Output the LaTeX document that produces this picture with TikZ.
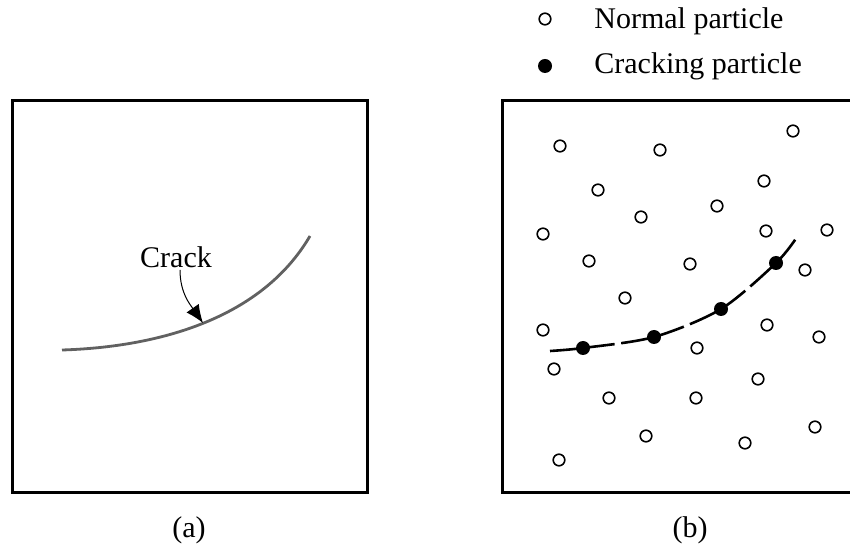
\documentclass[tikz,border=0pt]{standalone}
\usepackage{fontspec}
\setmainfont{Liberation Serif}
\usetikzlibrary{arrows.meta}
\begin{document}
\begin{tikzpicture}[x=0.5pt, y=-0.5pt,
		frame/.style={line width=1.5pt, line join=miter},
		txt/.style={font=\fontsize{15}{18}\selectfont, inner sep=1pt},
		normal/.style={circle, draw, line width=0.8pt, fill=white, minimum size=5.8pt, inner sep=0pt},
		cracking/.style={circle, fill=black, minimum size=7pt, inner sep=0pt},
		crackline/.style={line width=1.3pt, dash pattern=on 32.5pt off 3.3pt}
	]
		\useasboundingbox (0,0) rectangle (850,549);
		
		\draw[frame] (12,101) rectangle (367,492);
		\draw[frame] (850,101) -| (502,492) -- (850,492);
		
		\draw[line width=1.4pt, color=black!62] (62,350) .. controls (160,347) and (262,318) .. (310,236);
		\node[txt] (cracklabel) at (176,257) {Crack};
		\coordinate (cracktip) at (203,323);
		\draw[-{Latex[length=9pt,width=7.5pt]}, line width=0.5pt] ([xshift=2pt]cracklabel.south) to[out=-90, in=125] (cracktip);
		\node[txt] (labela) at (189,530) {(a)};
		
		\foreach \pos [count=\i] in {(560,146),(660,150),(793,131),(598,190),(764,181),(641,217),(717,206),(543,234),(766,231),(827,230),(589,261),(690,264),(805,270),(625,298),(543,330),(767,325),(819,337),(697,348),(554,369),(758,379),(609,398),(696,398),(646,436),(815,427),(745,443),(559,460)}
			\node[normal] (p\i) at \pos {};
		
		\coordinate (k0) at (550,351);
		\coordinate (k1) at (583,348);
		\coordinate (k2) at (654,337);
		\coordinate (k3) at (721,309);
		\coordinate (k4) at (776,263);
		\coordinate (k5) at (797,237);
		\draw[crackline] plot[smooth, tension=0.5] coordinates {(k0) (k1) (k2) (k3) (k4) (k5)};
		\foreach \i in {1,...,4}
			\node[cracking] (c\i) at (k\i) {};
		\node[txt] (labelb) at (690,530) {(b)};
		
		\node[normal] (legnormal) at (545,19) {};
		\node[txt, anchor=base west] (legnormaltext) at (592,29) {Normal particle};
		\node[cracking] (legcracking) at (545,66) {};
		\node[txt, anchor=base west] (legcrackingtext) at (592,74) {Cracking particle};
	\end{tikzpicture}
\end{document}
